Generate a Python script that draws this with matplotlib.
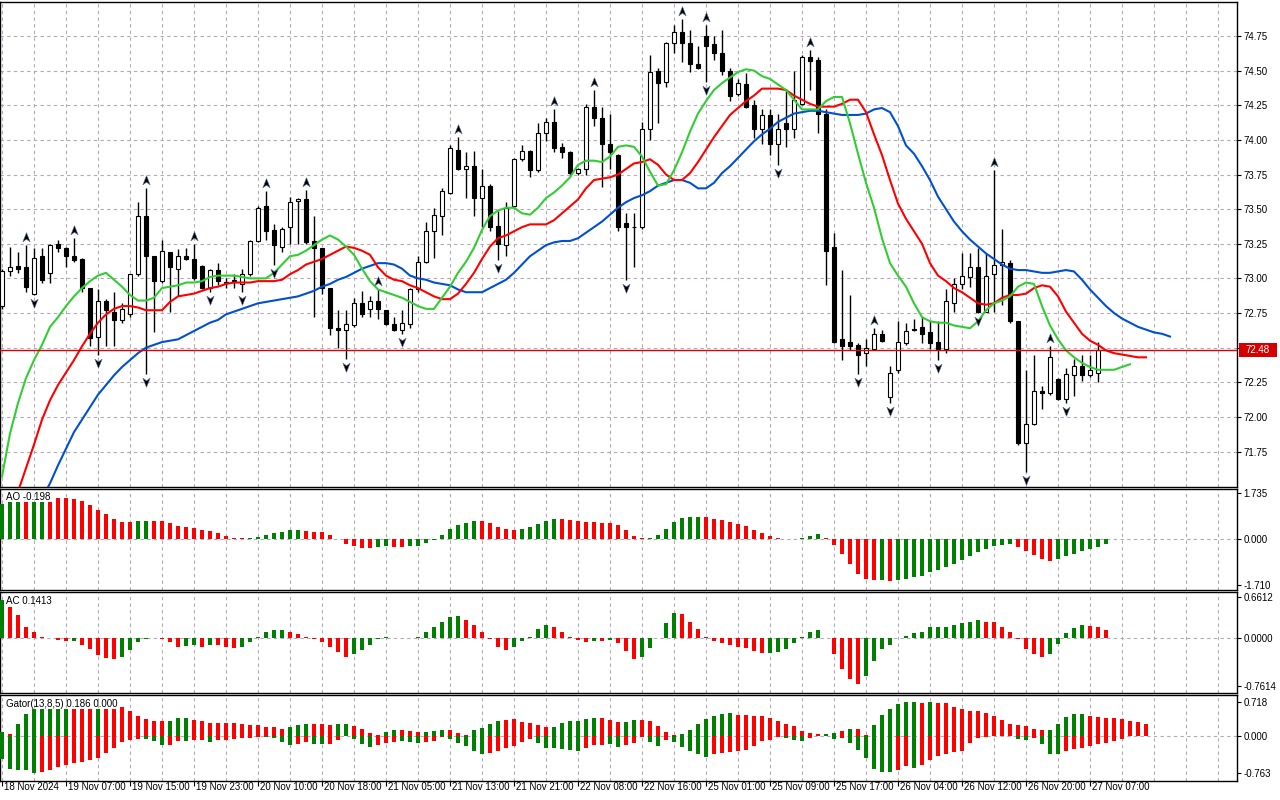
import matplotlib
matplotlib.use("Agg")
import matplotlib.pyplot as plt
import matplotlib.transforms as mtransforms
from matplotlib.path import Path
from matplotlib.patches import Rectangle
import numpy as np

plt.rcParams['font.family'] = ['Liberation Sans', 'DejaVu Sans']

W, H = 1280, 800

# ---- H1 candles (bar 0 = first bar on screen, bar 138 = current bar)
opens = [72.80, 73.05, 73.09, 73.08, 72.89, 73.16, 73.04, 73.25, 73.22, 73.16,
         73.14, 72.93, 72.58, 72.84, 72.76, 72.70, 72.74, 73.03, 73.45, 73.16,
         72.98, 73.19, 73.07, 73.16, 73.14, 73.09, 72.93, 73.06, 72.97, 72.98,
         72.96, 73.03, 73.27, 73.52, 73.35, 73.23, 73.37, 73.56, 73.57, 73.27,
         73.22, 72.93, 72.64, 72.63, 72.66, 72.82, 72.78, 72.84, 72.77, 72.67,
         72.63, 72.67, 72.92, 73.12, 73.34, 73.45, 73.62, 73.93, 73.79, 73.81,
         73.58, 73.67, 73.38, 73.24, 73.52, 73.86, 73.92, 73.78, 74.05, 74.13,
         73.95, 73.91, 73.76, 73.79, 74.24, 74.16, 73.97, 73.89, 73.40, 73.37,
         73.37, 74.08, 74.50, 74.42, 74.70, 74.78, 74.70, 74.55, 74.75, 74.69,
         74.63, 74.50, 74.33, 74.40, 74.25, 74.08, 74.18, 73.97, 74.12, 74.08,
         74.26, 74.60, 74.58, 74.19, 73.23, 72.56, 72.54, 72.52, 72.46, 72.49,
         72.60, 72.14, 72.34, 72.53, 72.63, 72.65, 72.61, 72.54, 72.49, 72.82,
         72.96, 73.01, 73.08, 72.76, 73.03, 73.10, 73.11, 72.69, 71.81, 71.95,
         72.19, 72.17, 72.27, 72.13, 72.30, 72.37, 72.30, 72.32, 72.48]
highs = [73.07, 73.23, 73.19, 73.24, 73.22, 73.22, 73.25, 73.28, 73.23, 73.29,
         73.15, 72.93, 72.92, 72.85, 72.90, 72.82, 73.03, 73.55, 73.65, 73.16,
         73.28, 73.19, 73.21, 73.22, 73.25, 73.10, 73.07, 73.11, 73.00, 73.03,
         73.07, 73.28, 73.52, 73.63, 73.39, 73.37, 73.59, 73.58, 73.64, 73.45,
         73.22, 72.93, 72.77, 72.77, 72.86, 72.91, 72.87, 72.92, 72.77, 72.72,
         72.77, 72.93, 73.16, 73.41, 73.51, 73.65, 73.96, 74.02, 73.91, 73.92,
         73.79, 73.68, 73.49, 73.55, 73.87, 73.96, 73.93, 74.12, 74.16, 74.22,
         73.98, 73.92, 73.80, 74.26, 74.36, 74.24, 74.19, 73.90, 73.47, 73.47,
         74.13, 74.61, 74.52, 74.71, 74.83, 74.87, 74.79, 74.68, 74.83, 74.75,
         74.79, 74.52, 74.44, 74.48, 74.29, 74.22, 74.22, 74.19, 74.37, 74.50,
         74.61, 74.65, 74.60, 74.22, 73.33, 73.06, 72.88, 72.53, 72.56, 72.64,
         72.63, 72.37, 72.69, 72.68, 72.71, 72.72, 72.69, 72.69, 72.92, 73.00,
         73.18, 73.18, 73.22, 73.18, 73.78, 73.36, 73.13, 72.69, 72.34, 72.45,
         72.22, 72.51, 72.28, 72.35, 72.42, 72.45, 72.45, 72.54, 72.48]
lows = [72.78, 73.02, 73.04, 72.90, 72.88, 72.97, 72.97, 73.19, 73.08, 73.12,
        72.90, 72.51, 72.45, 72.51, 72.51, 72.68, 72.72, 73.02, 72.31, 72.61,
        72.97, 72.76, 72.87, 73.13, 72.99, 72.92, 72.90, 72.95, 72.93, 72.93,
        72.90, 73.02, 73.26, 73.28, 73.10, 73.19, 73.25, 73.25, 73.25, 72.72,
        72.89, 72.59, 72.50, 72.42, 72.65, 72.72, 72.72, 72.71, 72.66, 72.62,
        72.60, 72.64, 72.90, 73.11, 73.15, 73.31, 73.61, 73.78, 73.58, 73.45,
        73.37, 73.34, 73.13, 73.16, 73.51, 73.85, 73.73, 73.77, 73.99, 73.91,
        73.87, 73.75, 73.75, 73.75, 74.10, 73.66, 73.79, 73.34, 72.99, 73.08,
        73.36, 74.00, 74.12, 74.38, 74.63, 74.56, 74.49, 74.51, 74.42, 74.58,
        74.47, 74.28, 74.32, 74.23, 74.01, 73.97, 73.89, 73.82, 73.95, 74.01,
        74.25, 74.36, 74.05, 72.95, 72.53, 72.41, 72.48, 72.31, 72.37, 72.48,
        72.54, 72.10, 72.32, 72.52, 72.62, 72.53, 72.49, 72.41, 72.46, 72.76,
        72.92, 72.94, 72.75, 72.77, 72.76, 72.81, 72.68, 71.80, 71.60, 71.94,
        72.06, 72.16, 72.12, 72.10, 72.15, 72.26, 72.29, 72.25, 72.48]
closes = [73.05, 73.08, 73.07, 72.94, 73.15, 72.99, 73.24, 73.22, 73.16, 73.13,
          72.93, 72.57, 72.84, 72.77, 72.70, 72.78, 73.03, 73.45, 73.16, 72.98,
          73.20, 73.08, 73.16, 73.14, 73.00, 72.93, 73.06, 72.98, 72.97, 72.99,
          73.03, 73.27, 73.51, 73.34, 73.24, 73.36, 73.55, 73.57, 73.26, 73.22,
          72.93, 72.64, 72.63, 72.67, 72.82, 72.74, 72.84, 72.78, 72.67, 72.63,
          72.68, 72.92, 73.12, 73.34, 73.46, 73.63, 73.94, 73.79, 73.81, 73.58,
          73.67, 73.37, 73.25, 73.51, 73.86, 73.92, 73.78, 74.05, 74.13, 73.94,
          73.91, 73.76, 73.79, 74.24, 74.16, 73.97, 73.91, 73.37, 73.37, 73.37,
          74.08, 74.49, 74.41, 74.70, 74.78, 74.70, 74.55, 74.52, 74.68, 74.63,
          74.50, 74.32, 74.41, 74.24, 74.08, 74.18, 73.97, 74.08, 74.08, 74.29,
          74.60, 74.57, 74.19, 73.20, 72.54, 72.51, 72.51, 72.45, 72.50, 72.60,
          72.55, 72.32, 72.54, 72.62, 72.63, 72.60, 72.53, 72.49, 72.84, 72.96,
          73.02, 73.08, 72.76, 73.02, 73.10, 73.12, 72.69, 71.81, 71.95, 72.19,
          72.17, 72.43, 72.13, 72.31, 72.37, 72.30, 72.34, 72.48, 72.48]
bid = 72.48

# ---- Alligator (already shifted forward: lips 3, teeth 5, jaw 8 bars)
lips = [71.57, 71.88, 72.10, 72.28, 72.41, 72.52, 72.65, 72.72, 72.80, 72.87,
        72.93, 72.98, 73.02, 73.04, 72.99, 72.94, 72.88, 72.84, 72.84, 72.86,
        72.93, 72.94, 72.95, 72.97, 72.97, 72.98, 73.01, 73.02, 73.02, 73.02,
        73.01, 73.00, 73.00, 73.00, 73.04, 73.10, 73.16, 73.17, 73.20, 73.24,
        73.28, 73.31, 73.28, 73.23, 73.17, 73.07, 72.98, 72.92, 72.90, 72.88,
        72.86, 72.83, 72.80, 72.78, 72.78, 72.86, 72.94, 73.04, 73.12, 73.22,
        73.35, 73.45, 73.49, 73.51, 73.51, 73.47, 73.46, 73.51, 73.58, 73.62,
        73.67, 73.73, 73.82, 73.85, 73.85, 73.84, 73.88, 73.95, 73.96, 73.95,
        73.88, 73.77, 73.67, 73.68, 73.78, 73.91, 74.06, 74.19, 74.28, 74.36,
        74.41, 74.45, 74.49, 74.51, 74.50, 74.46, 74.44, 74.40, 74.36, 74.29,
        74.22, 74.22, 74.22, 74.28, 74.31, 74.31, 74.12, 73.90, 73.69, 73.51,
        73.29, 73.11, 73.02, 72.94, 72.82, 72.72, 72.69, 72.68, 72.68, 72.66,
        72.65, 72.64, 72.69, 72.77, 72.82, 72.84, 72.87, 72.94, 72.97, 72.96,
        72.80, 72.66, 72.56, 72.48, 72.43, 72.39, 72.36, 72.34, 72.34, 72.34,
        72.36, 72.38]
teeth = [71.11, 71.28, 71.46, 71.63, 71.80, 71.98, 72.12, 72.23, 72.32, 72.41,
         72.51, 72.60, 72.68, 72.74, 72.78, 72.80, 72.80, 72.79, 72.77, 72.77,
         72.77, 72.83, 72.87, 72.88, 72.89, 72.91, 72.93, 72.94, 72.96, 72.97,
         72.97, 72.97, 72.98, 72.98, 72.98, 72.99, 73.03, 73.06, 73.10, 73.12,
         73.14, 73.17, 73.20, 73.23, 73.22, 73.20, 73.17, 73.08, 73.02, 72.99,
         72.98, 72.95, 72.93, 72.90, 72.87, 72.85, 72.85, 72.89, 72.96, 73.04,
         73.14, 73.23, 73.29, 73.31, 73.34, 73.37, 73.39, 73.39, 73.39, 73.42,
         73.47, 73.52, 73.57, 73.65, 73.71, 73.72, 73.73, 73.75, 73.79, 73.83,
         73.84, 73.86, 73.82, 73.75, 73.71, 73.71, 73.76, 73.84, 73.93, 74.02,
         74.10, 74.18, 74.23, 74.28, 74.32, 74.37, 74.37, 74.37, 74.36, 74.32,
         74.29, 74.26, 74.24, 74.24, 74.24, 74.26, 74.29, 74.29, 74.20, 74.04,
         73.89, 73.71, 73.54, 73.43, 73.34, 73.25, 73.11, 73.02, 72.98, 72.93,
         72.90, 72.86, 72.82, 72.81, 72.82, 72.86, 72.88, 72.88, 72.89, 72.93,
         72.95, 72.94, 72.87, 72.76, 72.68, 72.60, 72.55, 72.52, 72.48, 72.46,
         72.45, 72.44, 72.43, 72.43]
jaw = [70.73, 70.89, 71.06, 71.18, 71.30, 71.41, 71.52, 71.65, 71.77, 71.89,
       71.98, 72.07, 72.16, 72.23, 72.30, 72.36, 72.41, 72.46, 72.50, 72.52,
       72.54, 72.55, 72.56, 72.59, 72.62, 72.65, 72.68, 72.70, 72.74, 72.76,
       72.78, 72.80, 72.82, 72.83, 72.84, 72.85, 72.86, 72.87, 72.89, 72.91,
       72.94, 72.96, 72.99, 73.01, 73.04, 73.07, 73.09, 73.11, 73.11, 73.10,
       73.07, 73.02, 73.00, 72.99, 72.97, 72.96, 72.95, 72.92, 72.90, 72.90,
       72.90, 72.93, 72.96, 72.99, 73.04, 73.10, 73.16, 73.20, 73.24, 73.26,
       73.27, 73.27, 73.29, 73.33, 73.37, 73.41, 73.46, 73.51, 73.55, 73.58,
       73.60, 73.63, 73.67, 73.69, 73.71, 73.71, 73.69, 73.65, 73.65, 73.69,
       73.76, 73.81, 73.87, 73.93, 73.99, 74.04, 74.08, 74.13, 74.16, 74.19,
       74.20, 74.21, 74.21, 74.20, 74.19, 74.18, 74.18, 74.18, 74.19, 74.22,
       74.23, 74.20, 74.10, 73.96, 73.90, 73.81, 73.71, 73.59, 73.50, 73.41,
       73.34, 73.28, 73.23, 73.18, 73.14, 73.10, 73.07, 73.06, 73.06, 73.05,
       73.04, 73.04, 73.05, 73.06, 73.05, 72.99, 72.92, 72.86, 72.80, 72.75,
       72.71, 72.68, 72.65, 72.63, 72.61, 72.60, 72.58]

# ---- Fractals (bar indexes)
fractal_up = [3, 9, 18, 24, 33, 38, 47, 57, 69, 74, 85, 88, 101, 109, 124, 131]
fractal_down = [4, 12, 18, 26, 30, 34, 43, 50, 62, 78, 88, 97, 107, 111, 117,
                122, 128, 133]

# ---- Awesome Oscillator, g = rising bar, r = falling bar
ao = [1.31, 1.39, 1.39, 1.39, 1.39, 1.39, 1.39, 1.53, 1.53, 1.49,
      1.43, 1.27, 1.08, 0.93, 0.75, 0.65, 0.65, 0.68, 0.68, 0.68,
      0.68, 0.60, 0.49, 0.45, 0.41, 0.34, 0.30, 0.22, 0.12, 0.05,
      0.02, 0.05, 0.09, 0.15, 0.22, 0.26, 0.34, 0.345, 0.30, 0.27,
      0.26, 0.15, 0.01, -0.19, -0.25, -0.32, -0.34, -0.29, -0.26, -0.29,
      -0.30, -0.27, -0.25, -0.15, -0.04, 0.15, 0.37, 0.52, 0.60, 0.67,
      0.66, 0.60, 0.45, 0.37, 0.34, 0.37, 0.45, 0.56, 0.67, 0.75,
      0.74, 0.71, 0.67, 0.63, 0.62, 0.60, 0.59, 0.52, 0.34, 0.11,
      0.04, 0.045, 0.15, 0.37, 0.63, 0.78, 0.82, 0.83, 0.82, 0.75,
      0.71, 0.63, 0.56, 0.49, 0.34, 0.22, 0.11, 0.03, -0.01, -0.005,
      0.04, 0.11, 0.19, 0.04, -0.22, -0.56, -0.93, -1.31, -1.50, -1.53,
      -1.52, -1.57, -1.53, -1.49, -1.42, -1.39, -1.23, -1.16, -1.04, -0.93,
      -0.78, -0.63, -0.49, -0.36, -0.26, -0.22, -0.19, -0.30, -0.45, -0.60,
      -0.75, -0.82, -0.75, -0.62, -0.56, -0.44, -0.37, -0.29, -0.198]
ao_col = ("gggrggrrrr" "rrrrrrrggr" "rrrrrrrrrr" "rgggggggrr" "rrrrrrrggr"
          "rggggggggg" "rrrrrggggg" "rrrrrrrrrr" "rgggggggrr" "rrrrrrrrrg"
          "gggrrrrrrr" "grgggggggg" "gggggggrrr" "rrggggggg")

# ---- Accelerator Oscillator
ac = [0.61, 0.505, 0.37, 0.19, 0.096, 0.03, 0.005, -0.027, -0.043, -0.04,
      -0.096, -0.17, -0.27, -0.31, -0.33, -0.30, -0.19, -0.06, -0.01, 0.015,
      -0.01, -0.06, -0.13, -0.12, -0.11, -0.13, -0.11, -0.11, -0.14, -0.155,
      -0.13, -0.06, 0.016, 0.096, 0.13, 0.135, 0.11, 0.075, 0.03, -0.005,
      -0.06, -0.13, -0.22, -0.29, -0.24, -0.19, -0.11, -0.01, 0.02, 0.01,
      0.005, 0.002, 0.03, 0.11, 0.19, 0.27, 0.335, 0.35, 0.29, 0.21,
      0.096, -0.005, -0.14, -0.19, -0.14, -0.04, 0.03, 0.145, 0.21, 0.19,
      0.11, 0.03, -0.027, -0.06, -0.04, -0.045, -0.027, -0.075, -0.20, -0.33,
      -0.29, -0.155, 0.01, 0.24, 0.40, 0.395, 0.27, 0.145, 0.03, -0.04,
      -0.075, -0.11, -0.14, -0.155, -0.20, -0.235, -0.23, -0.22, -0.17, -0.075,
      0.016, 0.096, 0.13, 0.003, -0.24, -0.48, -0.64, -0.72, -0.60, -0.36,
      -0.16, -0.096, 0.005, 0.043, 0.08, 0.11, 0.19, 0.19, 0.19, 0.21,
      0.24, 0.27, 0.29, 0.27, 0.255, 0.19, 0.11, -0.005, -0.16, -0.25,
      -0.29, -0.25, -0.09, 0.085, 0.165, 0.22, 0.20, 0.175, 0.141]
ac_col = ("grrrrrrrrg" "rrrrrggggg" "rrrggrgrrr" "ggggggrrrr" "rrrrgggggr"
          "rrggggggrr" "rrrrgggggr" "rrrrgrgrrr" "gggggrrrrr" "rrrrrrgggg"
          "gggrrrrrgg" "gggggggggg" "gggrrrrrrr" "rgggggrrr")

# ---- Gator oscillator (upper = |jaw-teeth|, lower = -|teeth-lips|)
gator_up = [0.09, 0.05, 0.245, 0.45, 0.56, 0.56, 0.56, 0.56, 0.56, 0.56,
            0.56, 0.56, 0.56, 0.56, 0.56, 0.60, 0.52, 0.42, 0.345, 0.32,
            0.31, 0.32, 0.37, 0.37, 0.34, 0.32, 0.28, 0.28, 0.28, 0.28,
            0.26, 0.22, 0.22, 0.19, 0.18, 0.15, 0.18, 0.22, 0.26, 0.26,
            0.24, 0.22, 0.26, 0.26, 0.20, 0.15, 0.07, 0.03, 0.086, 0.115,
            0.115, 0.10, 0.086, 0.086, 0.10, 0.13, 0.13, 0.07, 0.03, 0.115,
            0.17, 0.245, 0.32, 0.34, 0.345, 0.30, 0.27, 0.22, 0.18, 0.19,
            0.27, 0.31, 0.32, 0.35, 0.37, 0.365, 0.33, 0.285, 0.29, 0.33,
            0.325, 0.31, 0.20, 0.09, 0.03, 0.05, 0.13, 0.26, 0.35, 0.42,
            0.46, 0.48, 0.44, 0.435, 0.42, 0.415, 0.37, 0.31, 0.24, 0.20,
            0.095, 0.06, 0.045, 0.045, 0.07, 0.095, 0.15, 0.15, 0.03, 0.22,
            0.44, 0.57, 0.66, 0.70, 0.70, 0.69, 0.70, 0.695, 0.685, 0.60,
            0.555, 0.525, 0.52, 0.48, 0.42, 0.33, 0.24, 0.225, 0.20, 0.15,
            0.12, 0.125, 0.25, 0.39, 0.46, 0.465, 0.42, 0.39, 0.385, 0.37,
            0.35, 0.31, 0.285, 0.24]
gator_up_col = ("grgggggggr" "rrgrrrrrrr" "rgggrrrrrr" "rrrrrrgggr" "rrggrrrrgg"
                "rrrgggrrrg" "gggrrrrrrg" "gggggrrrgg" "rrrrrggggg" "ggrrrrrrrr"
                "rrrggrgrrg" "gggggrgrrr" "rrrrrrrrrr" "rgggggrrrr" "rrrr")
gator_dn = [-0.48, -0.68, -0.71, -0.71, -0.77, -0.75, -0.71, -0.65, -0.60, -0.57,
            -0.55, -0.50, -0.45, -0.36, -0.245, -0.12, -0.086, -0.065, -0.065, -0.10,
            -0.19, -0.19, -0.11, -0.11, -0.086, -0.086, -0.12, -0.086, -0.086, -0.065,
            -0.036, -0.036, -0.015, -0.015, -0.05, -0.12, -0.18, -0.16, -0.12, -0.16,
            -0.165, -0.165, -0.086, -0.01, -0.065, -0.17, -0.23, -0.19, -0.14, -0.12,
            -0.10, -0.12, -0.14, -0.12, -0.10, -0.03, -0.07, -0.14, -0.21, -0.32,
            -0.37, -0.35, -0.31, -0.245, -0.21, -0.12, -0.065, -0.14, -0.245, -0.245,
            -0.27, -0.29, -0.31, -0.255, -0.195, -0.18, -0.16, -0.23, -0.18, -0.15,
            -0.015, -0.12, -0.21, -0.09, -0.12, -0.23, -0.31, -0.38, -0.43, -0.38,
            -0.35, -0.33, -0.31, -0.285, -0.20, -0.11, -0.09, -0.015, -0.035, -0.09,
            -0.11, -0.05, -0.005, -0.005, -0.07, -0.035, -0.15, -0.30, -0.45, -0.69,
            -0.76, -0.76, -0.70, -0.635, -0.67, -0.61, -0.50, -0.42, -0.38, -0.34,
            -0.31, -0.15, -0.05, -0.02, -0.01, -0.005, -0.005, -0.065, -0.09, -0.035,
            -0.16, -0.365, -0.365, -0.32, -0.28, -0.255, -0.21, -0.16, -0.146, -0.11,
            -0.065]
gator_dn_col = ("gggggrrrrr" "rrrrrrrrgg" "grrgrrgrrr" "rrrggggrrg" "grrrgggrrr"
                "gggrrrgggg" "grrrrrrggg" "gggrrrggrr" "rggrgggggr" "rrrrrrrrgg"
                "grrrgrgggg" "ggrrgrrrrr" "rrrrrrgggr" "gggrrrrrrr" "r")

# ---- time axis labels, one every 8 bars
time_labels = ["18 Nov 2024", "19 Nov 07:00", "19 Nov 15:00", "19 Nov 23:00",
               "20 Nov 10:00", "20 Nov 18:00", "21 Nov 05:00", "21 Nov 13:00",
               "21 Nov 21:00", "22 Nov 08:00", "22 Nov 16:00", "25 Nov 01:00",
               "25 Nov 09:00", "25 Nov 17:00", "26 Nov 04:00", "26 Nov 12:00",
               "26 Nov 20:00", "27 Nov 07:00"]

GRID = '#b4a9bb'
HIST = {'g': '#008000', 'r': '#ff0000'}
FS = 7.0


def box(x0, y0, x1, y1):
    return [x0 / W, 1 - y1 / H, (x1 - x0) / W, (y1 - y0) / H]


fig = plt.figure(figsize=(W / 100, H / 100), dpi=100)
ax = fig.add_axes(box(0, 2, 1237, 487))
ax_ao = fig.add_axes(box(0, 489, 1237, 590))
ax_ac = fig.add_axes(box(0, 592, 1237, 693))
ax_gt = fig.add_axes(box(0, 695, 1237, 781))

for a in (ax, ax_ao, ax_ac, ax_gt):
    a.set_xlim(-0.25, 154.375)
    for s in a.spines.values():
        s.set_color('black')
        s.set_linewidth(1.0)
    for v in range(0, 155, 4):
        a.axvline(v, color=GRID, lw=0.8, ls=(0, (3, 3)), zorder=0)
    a.yaxis.tick_right()
    a.tick_params(axis='y', direction='out', length=3, width=0.8, pad=1.5,
                  labelsize=FS, colors='black')
    a.tick_params(axis='x', bottom=False, labelbottom=False)

# ---- main price pane
ax.set_ylim(71.4937, 74.9955)
ticks = np.arange(71.75, 74.76, 0.25)
ax.set_yticks(ticks)
# the 72.50 label sits under the bid price tag, so it is left blank
ax.set_yticklabels(['' if abs(t - 72.5) < 1e-6 else '%.2f' % t for t in ticks])
for p in ticks:
    ax.axhline(p, color=GRID, lw=0.8, ls=(0, (3, 3)), zorder=0)

o, hi, lo, c = (np.array(v) for v in (opens, highs, lows, closes))
idx = np.arange(len(o))
ax.vlines(idx, lo, hi, color='black', lw=1.0, zorder=3)
body = np.maximum(np.abs(c - o), 0.004)
ax.bar(idx, body, bottom=np.minimum(o, c), width=0.55,
       color=np.where(c >= o, 'white', 'black'), edgecolor='black',
       linewidth=0.8, zorder=4)

ax.plot(np.arange(len(jaw)), jaw, color='#0050d2', lw=1.5, zorder=5)
ax.plot(np.arange(len(teeth)), teeth, color='#ff0000', lw=1.5, zorder=5)
ax.plot(np.arange(len(lips)), lips, color='#32cd32', lw=1.5, zorder=5)

ax.axhline(bid, color='#e00000', lw=1.0, zorder=6)

arrow_up = Path([(0, 1), (0.75, -0.9), (0, -0.35), (-0.75, -0.9), (0, 1)],
                [Path.MOVETO, Path.LINETO, Path.LINETO, Path.LINETO, Path.CLOSEPOLY])
arrow_dn = Path([(0, -1), (0.75, 0.9), (0, 0.35), (-0.75, 0.9), (0, -1)],
                [Path.MOVETO, Path.LINETO, Path.LINETO, Path.LINETO, Path.CLOSEPOLY])
off = 8 / 138.5
ax.plot(fractal_up, hi[fractal_up] + off, ls='none', marker=arrow_up, ms=7,
        color='black', mec='#5a6fa0', mew=0.4, zorder=7)
ax.plot(fractal_down, lo[fractal_down] - off, ls='none', marker=arrow_dn, ms=7,
        color='black', mec='#5a6fa0', mew=0.4, zorder=7)

# ---- AO pane
ax_ao.set_ylim(-1.903, 1.866)
ax_ao.axhline(0, color=GRID, lw=0.8, ls=(0, (3, 3)), zorder=0)
ax_ao.bar(np.arange(len(ao)), ao, width=0.5, color=[HIST[k] for k in ao_col],
          zorder=3)
ax_ao.set_yticks([1.735, 0.0, -1.71])
ax_ao.set_yticklabels(['1.735', '0.000', '-1.710'])

# ---- AC pane
ax_ac.set_ylim(-0.868, 0.740)
ax_ac.axhline(0, color=GRID, lw=0.8, ls=(0, (3, 3)), zorder=0)
ax_ac.bar(np.arange(len(ac)), ac, width=0.5, color=[HIST[k] for k in ac_col],
          zorder=3)
ax_ac.set_yticks([0.6612, 0.0, -0.7614])
ax_ac.set_yticklabels(['0.6612', '0.0000', '-0.7614'])

# ---- Gator pane
ax_gt.set_ylim(-0.9375, 0.854)
ax_gt.axhline(0, color=GRID, lw=0.8, ls=(0, (3, 3)), zorder=0)
ax_gt.bar(np.arange(len(gator_up)), gator_up, width=0.5,
          color=[HIST[k] for k in gator_up_col], zorder=3)
ax_gt.bar(np.arange(len(gator_dn)), gator_dn, width=0.5,
          color=[HIST[k] for k in gator_dn_col], zorder=3)
ax_gt.set_yticks([0.718, 0.0, -0.763])
ax_gt.set_yticklabels(['0.718', '0.000', '-0.763'])

# time axis
tick_pos = [8 * k for k in range(len(time_labels))]
ax_gt.set_xticks(tick_pos)
ax_gt.set_xticklabels([''] * len(tick_pos))
ax_gt.tick_params(axis='x', bottom=True, direction='out', length=3.5, width=0.8)
trans = mtransforms.blended_transform_factory(ax_gt.transData, fig.transFigure)
for pos, lab in zip(tick_pos, time_labels):
    ax_gt.text(pos + 0.25, 1 - 787 / H, lab, transform=trans, ha='left',
               va='center', fontsize=FS, clip_on=False)

# pane captions
fig.text(6 / W, 1 - 497 / H, 'AO -0.198', ha='left', va='center', fontsize=FS)
fig.text(6 / W, 1 - 601 / H, 'AC 0.1413', ha='left', va='center', fontsize=FS)
fig.text(6 / W, 1 - 704 / H, 'Gator(13,8,5) 0.186 0.000', ha='left',
         va='center', fontsize=FS)

# bid price tag
fig.add_artist(Rectangle((1239 / W, 1 - 357 / H), 38 / W, 14 / H,
                         transform=fig.transFigure, fc='#d40000', ec='none',
                         zorder=10))
fig.text(1258 / W, 1 - 350 / H, '72.48', color='white', ha='center',
         va='center', fontsize=FS, zorder=11)

fig.savefig('out.png', dpi=100, facecolor='white')
